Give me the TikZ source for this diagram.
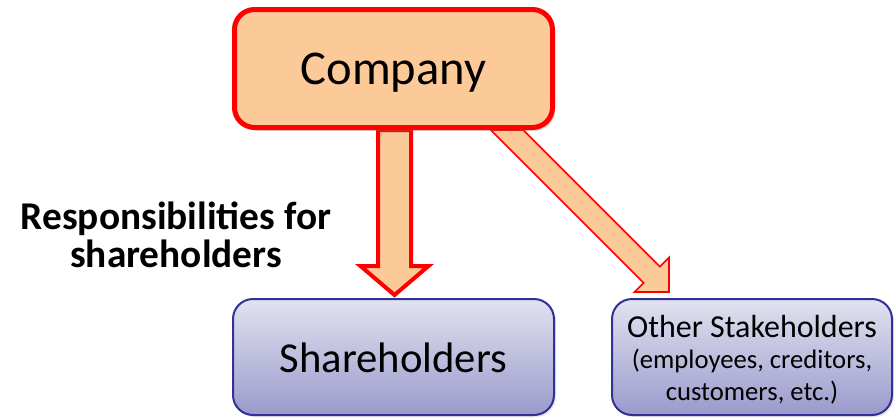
\documentclass[tikz,border=0pt]{standalone}
\usepackage{fontspec}
\setmainfont{Carlito}
\usetikzlibrary{calc,shadows,backgrounds}
\definecolor{peach}{RGB}{252,202,153}
\definecolor{boxtop}{RGB}{226,226,240}
\definecolor{boxbot}{RGB}{154,154,204}
\definecolor{boxline}{RGB}{48,50,150}
\begin{document}
\begin{tikzpicture}[x=0.75pt, y=-0.75pt,
    topbox/.style={draw=red, line width=3.75pt, fill=peach, rounded corners=15pt,
        drop shadow={shadow xshift=2pt, shadow yshift=-2.5pt, opacity=.3}},
    lowbox/.style={draw=boxline, line width=1.5pt, rounded corners=15pt,
        top color=boxtop, bottom color=boxbot, minimum height=87pt, align=center,
        drop shadow={shadow xshift=1.5pt, shadow yshift=-1.5pt, opacity=.2}},
    fatarrow/.style={draw=red, line width=3pt, fill=peach, line join=miter},
    thinarrow/.style={draw=red, line width=1.2pt, fill=peach, line join=miter}]
    \useasboundingbox (0,0) rectangle (894,418);

    % boxes
    \node [topbox, minimum width=238.5pt, minimum height=88.5pt,
        text height=24pt, text depth=0pt,
        font=\fontsize{36.4}{42}\selectfont] (company) at (393.5,68.5) {Company};
    \node [lowbox, minimum width=240.75pt, text height=22.5pt, text depth=0pt,
        font=\fontsize{32}{37}\selectfont] (share) at (393.5,357) {Shareholders};
    \node [lowbox, minimum width=210pt, text height=64.5pt, text depth=0pt,
        font=\fontsize{20}{23.6}\selectfont] (others) at (752,357)
        {{\fontsize{24}{23.6}\selectfont Other Stakeholders}\\
         (employees, creditors,\\
         customers, etc.)};

    % label of the big arrow
    \node [align=center, text height=40.5pt, text depth=0pt,
        font=\bfseries\fontsize{29.5}{28.5}\selectfont] (resp) at (176,240)
        {Responsibilities for\\shareholders};

    \begin{scope}[on background layer]
        % arrow down to the shareholders
        \draw [fatarrow] ($(company.south)+(-15.5,0)$) -- ($(share.north)+(-15.5,-32)$)
            -- ($(share.north)+(-33,-32)$) -- ($(share.north)+(1,-3)$)
            -- ($(share.north)+(35,-32)$) -- ($(share.north)+(17.5,-32)$)
            -- ($(company.south)+(17.5,0)$) -- cycle;
        % arrow to the other stakeholders
        \draw [thinarrow] ($(company.south)+(97.3,0)$) -- ($(others.north west)+(32.6,-15.2)$)
            -- ($(others.north west)+(23.4,-6)$) -- ($(others.north west)+(58,-6)$)
            -- ($(others.north west)+(58,-40.6)$) -- ($(others.north west)+(48.8,-31.4)$)
            -- ($(company.south)+(129.7,0)$) -- cycle;
    \end{scope}
\end{tikzpicture}
\end{document}
